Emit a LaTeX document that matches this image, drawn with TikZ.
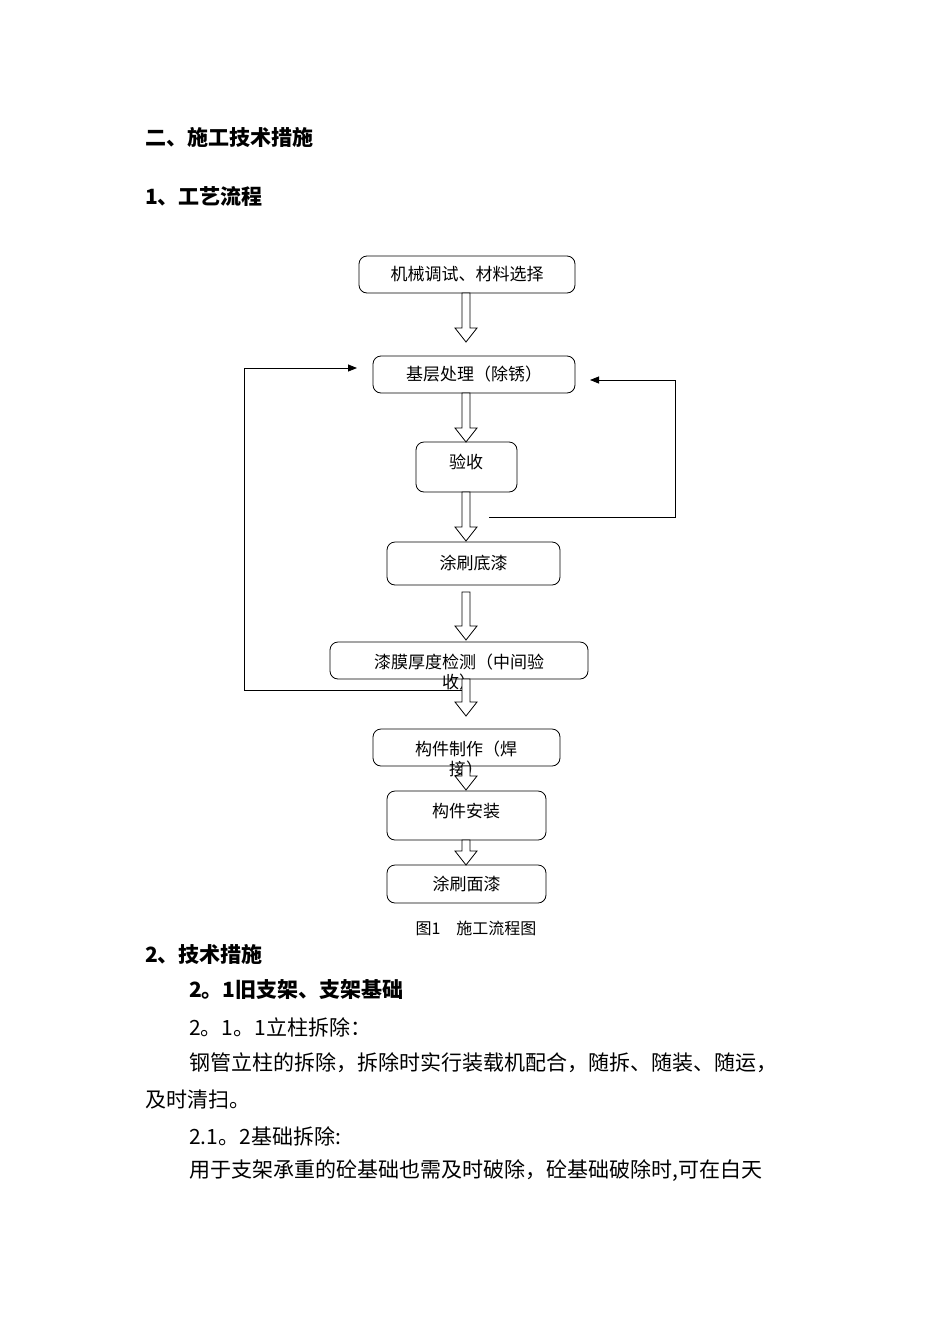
\documentclass[tikz,border=0pt]{standalone}
\usepackage{fontspec}
\setmainfont{Noto Sans CJK SC}
\usetikzlibrary{calc,arrows.meta}
\newcommand\hollow[2]{\draw[line width=0.8pt,fill=white] let \p1=#1, \p2=#2 in
 ({\x1-4pt},{\y1}) -- ({\x1-4pt},{\y2+14pt}) -- ({\x1-11pt},{\y2+14pt}) -- ({\x1},{\y2}) -- ({\x1+11pt},{\y2+14pt}) -- ({\x1+4pt},{\y2+14pt}) -- ({\x1+4pt},{\y1}) -- cycle;}
\begin{document}
\begin{tikzpicture}[x=1pt,y=-1pt,
 box/.style={draw,line width=0.8pt,rounded corners=8pt,inner sep=0pt,font=\fontsize{17}{20}\selectfont},
 body/.style={anchor=west,font=\fontsize{21}{24}\selectfont,inner sep=0pt},
 head/.style={body,font=\fontsize{21}{24}\selectfont\bfseries}]
\useasboundingbox[fill=white] (0,0) rectangle (950,1344);
\node[head] (h1) at (145,137) {二、施工技术措施};
\node[head] (h2) at (145,196) {1、工艺流程};
\node[box,minimum width=216,minimum height=37] (b1) at (467,274.5) {机械调试、材料选择};
\node[box,minimum width=202,minimum height=37] (b2) at (474,374.5) {基层处理（除锈）};
\node[box,minimum width=101,minimum height=50] (b3) at (466.5,467) {};
\node[font=\fontsize{17}{20}\selectfont] (t3) at (466,462) {验收};
\node[box,minimum width=173,minimum height=43] (b4) at (473.5,563.5) {涂刷底漆};
\node[box,minimum width=258,minimum height=37] (b5) at (459,660.5) {};
\node[font=\fontsize{17}{20}\selectfont,align=center,inner sep=0pt] (t5) at (459,672) {漆膜厚度检测（中间验\\收）};
\node[box,minimum width=187,minimum height=37] (b6) at (466.5,747.5) {};
\node[font=\fontsize{17}{20}\selectfont,align=center,inner sep=0pt] (t6) at (466,759) {构件制作（焊\\接）};
\node[box,minimum width=159,minimum height=49] (b7) at (466.5,815.5) {};
\node[font=\fontsize{17}{20}\selectfont] (t7) at (466,811) {构件安装};
\node[box,minimum width=159,minimum height=38] (b8) at (466.5,884) {涂刷面漆};
\hollow{(466,293)}{(466,342)}
\hollow{(466,393)}{(466,442)}
\hollow{(466,492)}{(466,541)}
\hollow{(466,592)}{(466,640)}
\hollow{(466,679)}{(466,716)}
\hollow{(466,766)}{(466,790)}
\hollow{(466,840)}{(466,865)}
\coordinate (l0) at (462,690);
\coordinate (r0) at (489,517);
\draw[line width=0.8pt,-{Triangle[length=9pt,width=7pt]}] (l0) -- (244,690) -- (244,368) -- (357,368);
\draw[line width=0.8pt,-{Triangle[length=9pt,width=7pt]}] (r0) -- (675,517) -- (675,380) -- (590,380);
\node[font=\fontsize{16}{19}\selectfont] (cap) at (476,928) {图1\quad 施工流程图};
\node[head] (h3) at (145,954) {2、技术措施};
\node[head] (h4) at (189,990) {2。1旧支架、支架基础};
\node[body] (p1) at (189,1027) {2。1。1立柱拆除：};
\node[body] (p2) at (189,1063) {钢管立柱的拆除，拆除时实行装载机配合，随拆、随装、随运，};
\node[body] (p3) at (145,1099) {及时清扫。};
\node[body] (p4) at (189,1136) {2.1。2基础拆除:};
\node[body] (p5) at (189,1171) {用于支架承重的砼基础也需及时破除，砼基础破除时,可在白天};
\end{tikzpicture}
\end{document}
